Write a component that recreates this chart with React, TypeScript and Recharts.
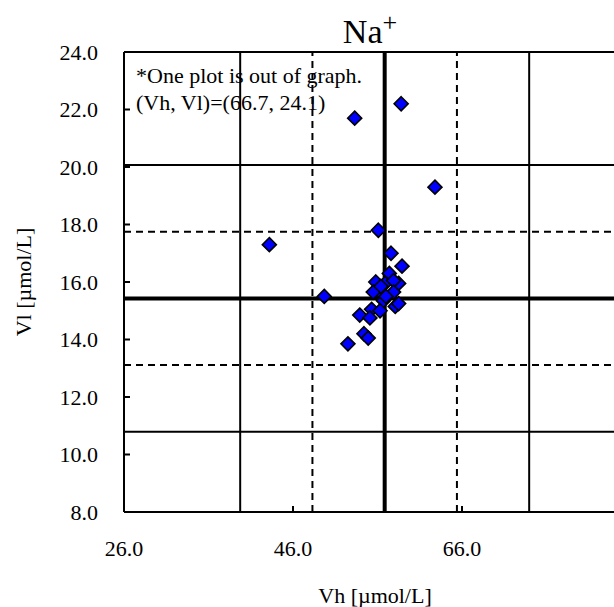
import React from 'react'
import {
  ScatterChart,
  Scatter,
  XAxis,
  YAxis,
  ReferenceLine,
  Customized,
} from 'recharts'

// Vh / Vl pairs (µmol/L)
const vhValues = [
  53.3, 58.8, 62.8, 43.2, 56.1, 57.6, 58.9, 57.4, 49.7, 55.8, 56.9, 58.5, 57.9,
  56.2, 57.9, 55.5, 56.7, 58.1, 58.5, 55.3, 56.3, 53.9, 55.1, 54.4, 54.9, 52.5,
  57.0, 56.4,
]
const vlValues = [
  21.7, 22.2, 19.3, 17.3, 17.8, 17.0, 16.55, 16.3, 15.5, 16.0, 15.95, 15.95,
  16.05, 15.65, 15.65, 15.65, 15.35, 15.15, 15.25, 15.05, 15.0, 14.85, 14.75,
  14.2, 14.05, 13.85, 15.5, 15.85,
]

const vhTicks = [26, 46, 66]
const vlTicks = [8, 10, 12, 14, 16, 18, 20, 22, 24]

// guide lines (outer / dashed / centre) as drawn in the reference
const vhGuides = [39.75, 48.3, 56.85, 65.4, 73.95]
const vlGuides = [10.79, 13.11, 15.43, 17.75, 20.07]
const guideStyles = ['solid', 'dashed', 'thick', 'dashed', 'solid']

const data = vhValues.map((vh, i) => ({ vh, vl: vlValues[i] }))

const FONT = '"Liberation Serif", "Times New Roman", serif'

const Diamond = (props: any) => {
  const { cx, cy } = props
  const r = 7
  return (
    <polygon
      points={`${cx},${cy - r} ${cx + r},${cy} ${cx},${cy + r} ${cx - r},${cy}`}
      fill="#0000FF"
      stroke="#000"
      strokeWidth={1.6}
    />
  )
}

const lineProps = (style: string) => ({
  stroke: '#000',
  strokeWidth: style === 'thick' ? 4 : 2,
  strokeDasharray: style === 'dashed' ? '7 5' : undefined,
})

const Texts = () => (
  <g fontFamily={FONT} fill="#000">
    <text x={370} y={43} textAnchor="middle" fontSize={34}>
      Na
      <tspan fontSize={26} dy={-12}>
        +
      </tspan>
    </text>
    <text x={136} y={83} fontSize={22}>
      *One plot is out of graph.
    </text>
    <text x={136} y={110} fontSize={22}>
      (Vh, Vl)=(66.7, 24.1)
    </text>
    <text
      x={0}
      y={0}
      fontSize={22}
      textAnchor="middle"
      transform="translate(31, 282) rotate(-90)"
    >
      Vl [µmol/L]
    </text>
    <text x={375} y={603} fontSize={22} textAnchor="middle">
      Vh [µmol/L]
    </text>
  </g>
)

export default function App() {
  const tickStyle = { fill: '#000', fontSize: 22, fontFamily: FONT }
  return (
    <div
      style={{
        position: 'absolute',
        left: 0,
        top: 0,
        width: 614,
        height: 607,
        overflow: 'hidden',
        background: '#fff',
      }}
    >
      <ScatterChart
        width={700}
        height={607}
        margin={{ top: 52, right: 69, bottom: 0, left: 0 }}
      >
        <XAxis
          type="number"
          dataKey="vh"
          domain={[26, 86]}
          ticks={vhTicks}
          allowDataOverflow
          height={95}
          tickFormatter={(v: number) => v.toFixed(1)}
          tick={tickStyle}
          tickSize={-6}
          tickMargin={34}
          axisLine={{ stroke: '#000', strokeWidth: 2 }}
          tickLine={{ stroke: '#000', strokeWidth: 2 }}
        />
        <YAxis
          type="number"
          dataKey="vl"
          domain={[8, 24]}
          ticks={vlTicks}
          allowDataOverflow
          width={124}
          tickFormatter={(v: number) => v.toFixed(1)}
          tick={tickStyle}
          tickSize={-6}
          tickMargin={32}
          axisLine={{ stroke: '#000', strokeWidth: 2 }}
          tickLine={{ stroke: '#000', strokeWidth: 2 }}
        />

        <ReferenceLine y={24} stroke="#000" strokeWidth={2} />
        <ReferenceLine x={86} stroke="#000" strokeWidth={2} />

        {vhGuides.map((v, i) => (
          <ReferenceLine key={`vh-${i}`} x={v} {...lineProps(guideStyles[i])} />
        ))}
        {vlGuides.map((v, i) => (
          <ReferenceLine key={`vl-${i}`} y={v} {...lineProps(guideStyles[i])} />
        ))}

        <Scatter data={data} shape={<Diamond />} isAnimationActive={false} />

        <Customized component={Texts} />
      </ScatterChart>
    </div>
  )
}
